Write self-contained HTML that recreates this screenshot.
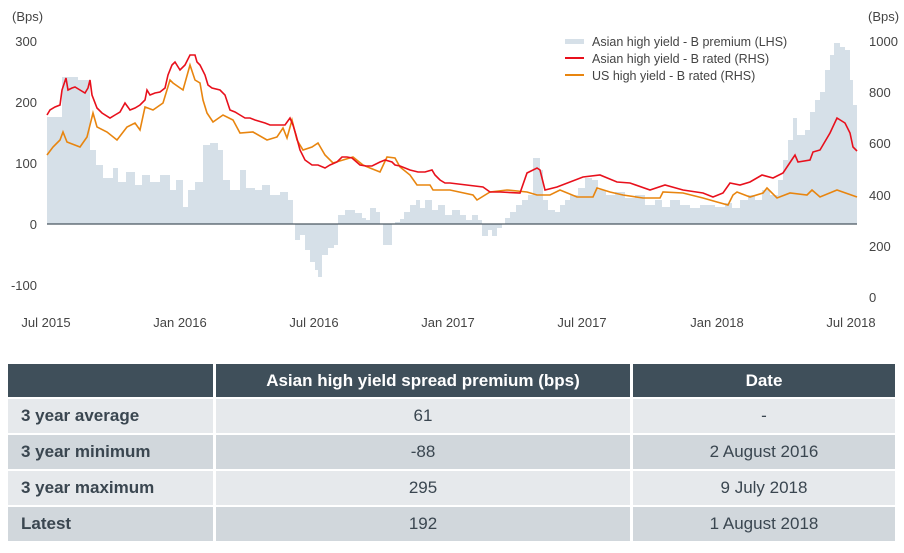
<!DOCTYPE html>
<html><head><meta charset="utf-8"><style>
body{margin:0;background:#fff;width:904px;height:553px;overflow:hidden;font-family:"Liberation Sans",sans-serif;}
svg{position:absolute;left:0;top:0}
table{position:absolute;left:8px;top:364px;border-collapse:separate;border-spacing:3px 2px;margin:-2px -3px;font-size:17px;color:#3a4650}
td,th{height:34px;padding:0}
th{background:#3f4f5a;color:#fff;font-weight:bold;height:33px}
td.l{font-weight:bold;padding-left:13px;text-align:left}
td{text-align:center}
tr.a td{background:#e6e9ec}
tr.b td{background:#d1d7dc}
</style></head><body>
<svg width="904" height="360" viewBox="0 0 904 360" font-family="Liberation Sans, sans-serif" font-size="13" fill="#444">
<path fill="#d6e0e8" d="M47,224 V117 H62 V77 H78 V80 H90 V150 H96 V165 H103 V178 H113 V168 H118 V182 H126 V172 H135 V185 H142 V175 H150 V182 H160 V175 H170 V190 H176 V180 H183 V207 H188 V190 H195 V182 H203 V145 H210 V143 H218 V150 H223 V180 H230 V190 H240 V170 H246 V188 H255 V190 H262 V185 H270 V195 H280 V192 H288 V200 H293 V224 H295 V240 H300 V235 H305 V250 H310 V262 H315 V270 H318 V277 H322 V255 H328 V248 H334 V245 H338 V215 H345 V210 H355 V213 H362 V218 H366 V220 H370 V208 H376 V212 H380 V224 H383 V245 H392 V224 H395 V222 H400 V219 H404 V212 H410 V205 H416 V200 H420 V208 H425 V200 H432 V210 H438 V205 H445 V215 H452 V210 H460 V215 H466 V220 H472 V215 H478 V220 H482 V236 H488 V230 H492 V236 H497 V228 H502 V224 H505 V218 H510 V212 H516 V205 H522 V200 H528 V195 H533 V158 H540 V170 H543 V200 H548 V210 H555 V212 H560 V205 H565 V200 H570 V195 H578 V188 H585 V178 H592 V180 H598 V190 H606 V195 H615 V192 H625 V198 H635 V195 H645 V205 H655 V200 H662 V207 H670 V200 H680 V205 H690 V208 H700 V205 H715 V207 H725 V203 H732 V208 H740 V200 H748 V195 H755 V200 H762 V190 H770 V195 H778 V180 H783 V160 H788 V140 H793 V118 H797 V135 H805 V130 H810 V112 H815 V100 H820 V92 H825 V70 H830 V55 H834 V43 H840 V47 H845 V50 H850 V80 H853 V105 H857 V224 Z"/>
<line x1="47" y1="224" x2="857" y2="224" stroke="#4a5760" stroke-width="1.3"/>
<polyline fill="none" stroke="#e8850f" stroke-width="1.6" points="47,155 53,147 60,140 63,132 67,142 80,147 87,137 93,113 97,127 107,132 117,140 127,127 135,123 140,130 145,107 153,110 163,103 170,80 173,83 183,90 190,65 195,80 200,83 203,100 207,113 213,122 223,115 233,120 240,133 253,132 267,140 277,137 283,128 287,138 292,120 297,140 303,150 312,147 318,143 325,155 333,163 343,160 353,157 363,165 370,168 380,172 387,157 395,158 400,167 410,175 417,185 430,185 433,190 450,190 473,195 477,200 490,192 507,190 527,192 537,195 550,195 560,190 577,197 593,197 597,188 610,192 623,195 643,198 660,198 663,192 683,193 703,198 717,202 728,205 733,195 737,192 750,197 763,193 767,188 777,198 790,193 807,195 812,190 820,197 837,190 857,197"/>
<polyline fill="none" stroke="#e8101c" stroke-width="1.6" points="47,115 50,110 55,107 60,105 62,90 66,78 68,90 72,88 75,87 80,90 85,93 88,88 90,80 92,95 97,108 102,113 110,118 115,115 120,112 125,103 130,110 135,108 140,105 145,100 147,90 150,95 155,93 160,92 165,88 168,75 172,65 175,62 180,70 185,65 190,55 195,55 197,62 200,65 205,75 208,85 212,88 220,90 225,95 230,110 235,112 240,115 245,118 250,118 255,120 265,123 270,125 280,125 285,125 290,118 293,125 296,135 300,150 305,160 312,165 318,165 325,168 330,165 337,162 342,157 347,157 352,158 360,165 366,166 372,166 380,162 385,160 392,162 395,165 400,166 405,168 410,170 418,172 425,172 432,170 435,175 440,180 445,183 450,183 483,187 490,192 500,192 520,193 527,173 537,168 540,170 545,190 557,187 583,177 600,175 617,182 630,183 650,190 665,185 683,190 703,193 713,197 723,193 730,183 740,185 750,182 762,175 773,178 783,173 793,158 795,155 798,162 810,160 813,152 820,150 830,133 837,118 845,123 850,133 853,147 857,151"/>
<text x="12" y="21">(Bps)</text>
<g text-anchor="end"><text x="37" y="46">300</text><text x="37" y="107">200</text><text x="37" y="168">100</text><text x="37" y="229">0</text><text x="37" y="290">-100</text></g>
<text x="868" y="21">(Bps)</text>
<g><text x="869" y="46">1000</text><text x="869" y="97">800</text><text x="869" y="148">600</text><text x="869" y="200">400</text><text x="869" y="251">200</text><text x="869" y="302">0</text></g>
<g text-anchor="middle"><text x="46" y="327">Jul 2015</text><text x="180" y="327">Jan 2016</text><text x="314" y="327">Jul 2016</text><text x="448" y="327">Jan 2017</text><text x="582" y="327">Jul 2017</text><text x="717" y="327">Jan 2018</text><text x="851" y="327">Jul 2018</text></g>
<rect x="565" y="39" width="19" height="5" fill="#d6e0e8"/>
<line x1="565" y1="58" x2="584" y2="58" stroke="#e8101c" stroke-width="2"/>
<line x1="565" y1="75" x2="584" y2="75" stroke="#e8850f" stroke-width="2"/>
<g font-size="12.5"><text x="592" y="46">Asian high yield - B premium (LHS)</text><text x="592" y="63">Asian high yield - B rated (RHS)</text><text x="592" y="80">US high yield - B rated (RHS)</text></g>
</svg>
<table>
<tr><th style="width:205px"></th><th style="width:414px">Asian high yield spread premium (bps)</th><th style="width:262px">Date</th></tr>
<tr class="a"><td class="l">3 year average</td><td>61</td><td>-</td></tr>
<tr class="b"><td class="l">3 year minimum</td><td>-88</td><td>2 August 2016</td></tr>
<tr class="a"><td class="l">3 year maximum</td><td>295</td><td>9 July 2018</td></tr>
<tr class="b"><td class="l">Latest</td><td>192</td><td>1 August 2018</td></tr>
</table>
</body></html>
